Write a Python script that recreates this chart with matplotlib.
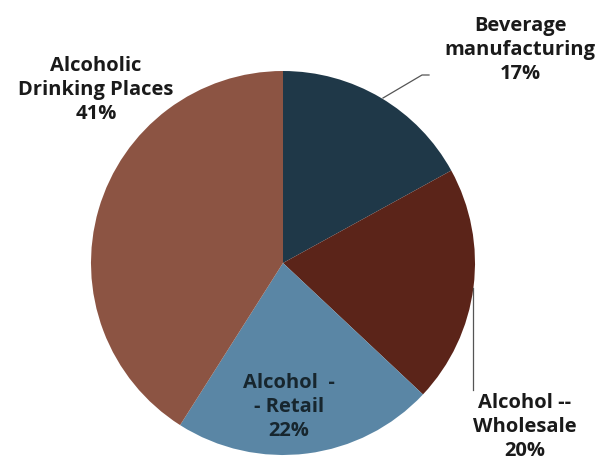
import matplotlib.pyplot as plt

labels = ['Beverage\nmanufacturing\n17%', 'Alcohol --\nWholesale\n20%',
          'Alcohol  -\n- Retail\n22%', 'Alcoholic\nDrinking Places\n41%']
shares = [17, 20, 22, 41]
colors = ['#1f3848', '#5b2419', '#5a86a5', '#8c5443']

W, H = 604, 461
fig = plt.figure(figsize=(W / 100, H / 100), dpi=100)
ax = fig.add_axes([0, 0, 1, 1])

cx, cy, r = 283, H - 263, 192
ax.pie(shares, colors=colors, startangle=90, counterclock=False,
       center=(cx, cy), radius=r, frame=True,
       wedgeprops=dict(linewidth=0))
ax.set_xlim(0, W)
ax.set_ylim(0, H)
ax.set_aspect('equal')
ax.axis('off')

font = dict(family='Open Sans', fontweight='bold', fontsize=14.5,
            ha='center', va='center', linespacing=1.25)

# leader lines for the two outside labels
ax.plot([383, 422, 429], [H - 98, H - 75, H - 75], color='#555555', lw=0.9)
ax.plot([473, 473], [H - 288, H - 390], color='#555555', lw=0.9)

ax.text(520, H - 50, labels[0], color='#1a1a1a', **font)
ax.text(525, H - 427, labels[1], color='#1a1a1a', **font)
ax.text(289, H - 407, labels[2], color='#17262e', **font)
ax.text(96, H - 90, labels[3], color='#1a1a1a', **font)

fig.savefig('out.png', dpi=100)
